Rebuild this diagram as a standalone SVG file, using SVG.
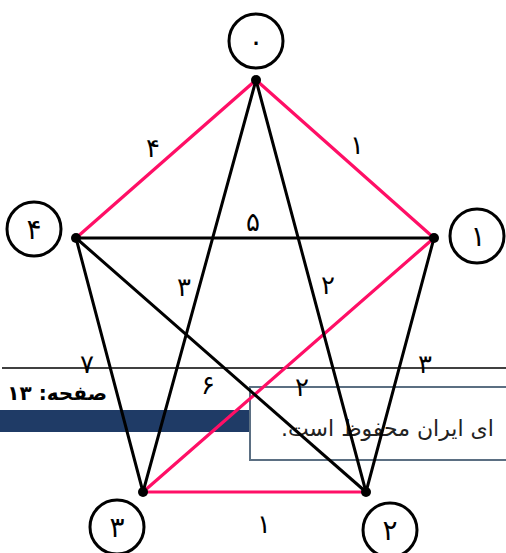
<svg xmlns="http://www.w3.org/2000/svg" width="506" height="553" viewBox="0 0 506 553">
<style>
.pink{stroke:#ff0f66;stroke-width:3.2;fill:none;stroke-linecap:round}
.blk{stroke:#000;stroke-width:3;fill:none;stroke-linecap:round}
.ring{fill:#fff;stroke:#000;stroke-width:3}
.dot{fill:#000}
.lbl{font-family:"DejaVu Sans",sans-serif;font-size:26px;fill:#000;text-anchor:middle}
.nl{font-family:"DejaVu Sans",sans-serif;font-size:28px;fill:#000;text-anchor:middle}
</style>
<rect width="506" height="553" fill="#fff"/>
<g id="page-overlay">
<line x1="2" y1="368" x2="506" y2="368" stroke="#000" stroke-width="1.5"/>
<text x="107" y="400" direction="rtl" text-anchor="start" font-family="DejaVu Sans,sans-serif" font-size="20" font-weight="bold">صفحه: ۱۳</text>
<rect x="0" y="410" width="251" height="22" fill="#1f3b66"/>
<path d="M506 387 H250 V460 H506" fill="#fff" stroke="#5b6f82" stroke-width="2"/>
<text x="281" y="436" direction="rtl" text-anchor="end" font-family="DejaVu Sans,sans-serif" font-size="22" fill="#222">ای ایران محفوظ است.</text>
</g>
<g id="edges">
<line class="pink" x1="256" y1="80" x2="76" y2="238"/>
<line class="pink" x1="256" y1="80" x2="434" y2="238"/>
<line class="pink" x1="434" y1="238" x2="143" y2="492"/>
<line class="pink" x1="143" y1="492" x2="366" y2="492"/>
<line class="blk" x1="76" y1="238" x2="434" y2="238"/>
<line class="blk" x1="256" y1="80" x2="143" y2="492"/>
<line class="blk" x1="256" y1="80" x2="366" y2="492"/>
<line class="blk" x1="76" y1="238" x2="143" y2="492"/>
<line class="blk" x1="76" y1="238" x2="366" y2="492"/>
<line class="blk" x1="434" y1="238" x2="366" y2="492"/>
</g>
<g id="edge-labels">
<text class="lbl" x="153" y="157">۴</text>
<text class="lbl" x="357" y="154">۱</text>
<text class="lbl" x="253" y="231">۵</text>
<text class="lbl" x="184" y="296">۳</text>
<text class="lbl" x="328" y="294">۲</text>
<text class="lbl" x="87" y="373">۷</text>
<text class="lbl" x="425" y="373">۳</text>
<text class="lbl" x="208" y="394">۶</text>
<text class="lbl" x="302" y="396">۲</text>
<text class="lbl" x="264" y="533">۱</text>
</g>
<g id="node-0"><circle class="ring" cx="256" cy="41" r="27"/><text class="nl" x="256" y="51">۰</text><circle class="dot" cx="256" cy="80" r="5"/></g>
<g id="node-1"><circle class="ring" cx="477" cy="236" r="27"/><text class="nl" x="478" y="246">۱</text><circle class="dot" cx="434" cy="238" r="5"/></g>
<g id="node-2"><circle class="ring" cx="390" cy="530" r="27"/><text class="nl" x="390" y="540">۲</text><circle class="dot" cx="366" cy="492" r="5"/></g>
<g id="node-3"><circle class="ring" cx="117" cy="527" r="27"/><text class="nl" x="117" y="537">۳</text><circle class="dot" cx="143" cy="492" r="5"/></g>
<g id="node-4"><circle class="ring" cx="34" cy="229" r="27"/><text class="nl" x="34" y="239">۴</text><circle class="dot" cx="76" cy="238" r="5"/></g>
</svg>
